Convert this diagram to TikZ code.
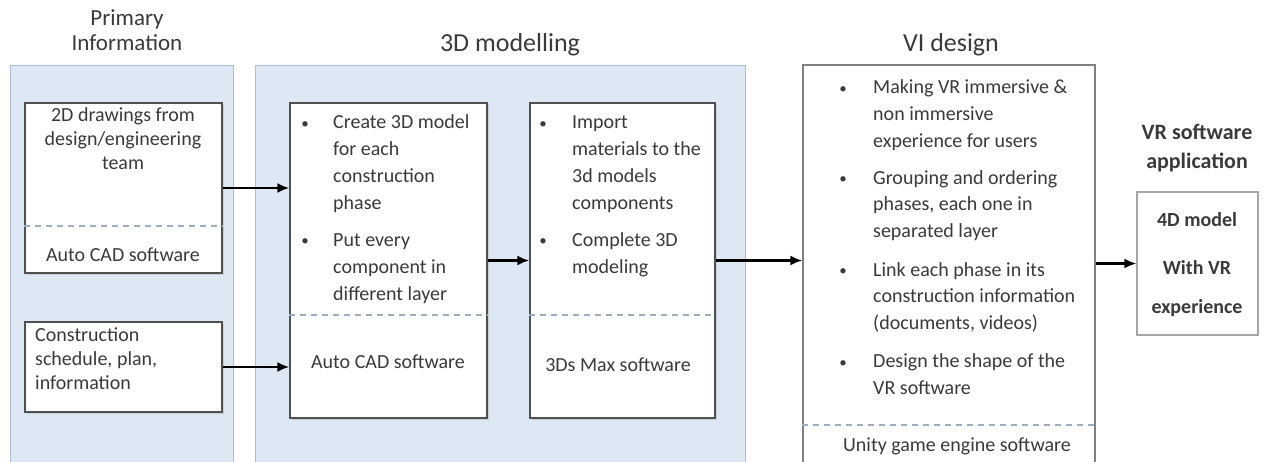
\documentclass[tikz,border=0pt]{standalone}
\usepackage{fontspec}
\setmainfont{Carlito}
\usetikzlibrary{arrows.meta,shadows}
\definecolor{panelfill}{HTML}{DDE8F4}
\definecolor{paneldraw}{HTML}{A9BFD6}
\definecolor{boxdraw}{HTML}{505050}
\definecolor{boxdrawb}{HTML}{808080}
\definecolor{txt}{HTML}{3A3A3A}
\definecolor{dashc}{HTML}{9AAFC4}
\begin{document}
\begin{tikzpicture}[x=1pt,y=-1pt,
  panel/.style={draw=paneldraw, fill=panelfill, line width=1pt, inner sep=0pt},
  box/.style={draw=boxdraw, fill=white, line width=1.3pt, inner sep=0pt,
    drop shadow={opacity=0.25,shadow xshift=1.5pt,shadow yshift=-1.5pt}},
  boxb/.style={draw=boxdrawb, fill=white, line width=1.2pt, inner sep=0pt},
  sep/.style={draw=dashc, dash pattern=on 6pt off 5pt, line width=1.2pt},
  body/.style={font=\fontsize{20}{24}\selectfont, text=txt, inner sep=0pt},
  item/.style={font=\fontsize{20}{26.7}\selectfont, text=txt, inner sep=0pt, anchor=base west, align=left},
  bul/.style={font=\fontsize{15}{18}\selectfont, text=txt, inner sep=0pt, anchor=base},
  title/.style={font=\fontsize{23}{25}\selectfont, text=txt, inner sep=0pt, anchor=base, align=center},
  arr/.style={draw=black, line width=2.3pt, -{Latex[length=12pt,width=10pt]}}
]
\useasboundingbox (0,0) rectangle (1271,461);
\fill[white] (0,0) rectangle (1271,461);

% panels
\node[panel, minimum width=223pt, minimum height=405pt] (P1) at (121.5,267.5) {};
\node[panel, minimum width=490pt, minimum height=405pt] (P2) at (500,267.5) {};

% titles (base anchor = last line)
\node[title] (t1) at (127,50) {Primary\\Information};
\node[title, font=\fontsize{26}{28}\selectfont] (t2) at (510,51) {3D modelling};
\node[title, font=\fontsize{26}{28}\selectfont] (t3) at (951,51) {VI design};
\node[title, font=\bfseries\fontsize{22}{29}\selectfont] (t4) at (1197,168) {VR software\\application};

% boxes
\node[box, minimum width=197pt, minimum height=170pt] (A1) at (123.5,188) {};
\node[box, minimum width=197pt, minimum height=90pt] (A2) at (123.5,367) {};
\node[box, minimum width=197pt, minimum height=315pt] (B1) at (388.5,260.5) {};
\node[box, minimum width=185pt, minimum height=315pt] (B2) at (622.5,260.5) {};
\node[boxb, minimum width=292pt, minimum height=405pt] (C) at (949,267.5) {};
\node[boxb, draw=boxdrawb!70, minimum width=121pt, minimum height=143pt] (D) at (1197.5,263.5) {};

% dashed separators
\draw[sep] (A1.west |- 0,226) -- (A1.east |- 0,226);
\draw[sep] (B1.west |- 0,315) -- (B1.east |- 0,315);
\draw[sep] (B2.west |- 0,315) -- (B2.east |- 0,315);
\draw[sep] (C.west |- 0,425) -- (C.east |- 0,425);

% texts: primary information
\node[body, align=center, anchor=base] (a1t) at (123,169) {2D drawings from\\design/engineering\\team};
\node[body, anchor=base] (a1s) at (123,261) {Auto CAD software};
\node[body, align=left, anchor=base west] (a2t) at (35,389) {Construction\\schedule, plan,\\information};

% 3D modelling
\node[bul] (b1a) at (305,128) {\textbullet};
\node[item] (b1at) at (333,209) {Create 3D model\\for each\\construction\\phase};
\node[bul] (b1b) at (305,245) {\textbullet};
\node[item] (b1bt) at (333,300) {Put every\\component in\\different layer};
\node[body, anchor=base] (b1s) at (388,368) {Auto CAD software};

\node[bul] (b2a) at (543,128) {\textbullet};
\node[item] (b2at) at (572,209) {Import\\materials to the\\3d models\\components};
\node[bul] (b2b) at (543,245) {\textbullet};
\node[item] (b2bt) at (572,273) {Complete 3D\\modeling};
\node[body, anchor=base] (b2s) at (618,371) {3Ds Max software};

% VI design
\node[bul] (ca) at (843,93) {\textbullet};
\node[item] (cat) at (873,147) {Making VR immersive \&\\non immersive\\experience for users};
\node[bul] (cb) at (843,183) {\textbullet};
\node[item] (cbt) at (873,237.5) {Grouping and ordering\\phases, each one in\\separated layer};
\node[bul] (cc) at (843,275) {\textbullet};
\node[item] (cct) at (873,329.5) {Link each phase in its\\construction information\\(documents, videos)};
\node[bul] (cd) at (843,367) {\textbullet};
\node[item] (cdt) at (873,394.5) {Design the shape of the\\VR software};
\node[body, anchor=base] (cs) at (957,451) {Unity game engine software};

% final box
\node[body, font=\bfseries\fontsize{20}{24}\selectfont, anchor=base] (d1) at (1197,226) {4D model};
\node[body, font=\bfseries\fontsize{20}{24}\selectfont, anchor=base] (d2) at (1197,274) {With VR};
\node[body, font=\bfseries\fontsize{20}{24}\selectfont, anchor=base] (d3) at (1197,313) {experience};

% arrows
\draw[arr] (A1.east) -- (A1.east -| B1.west);
\draw[arr] (A2.east) -- (A2.east -| B1.west);
\draw[arr] (B1.east) -- (B2.west);
\draw[arr] (B2.east) -- (B2.east -| C.west);
\draw[arr] (C.east |- D.west) -- (D.west);
\end{tikzpicture}
\end{document}
